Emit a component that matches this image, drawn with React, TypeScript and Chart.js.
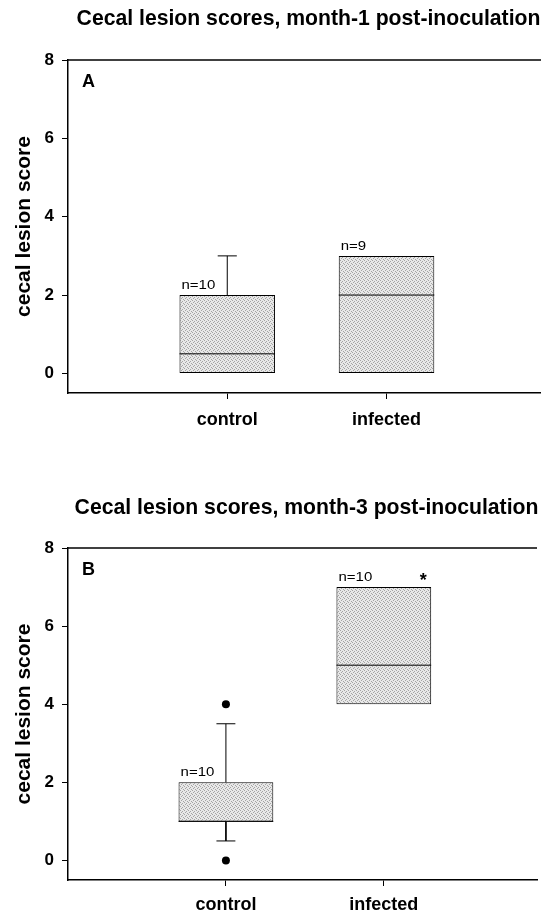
import React, { useEffect, useRef } from 'react';
import { Chart, registerables } from 'chart.js';

Chart.register(...registerables);

const FONT = '"Liberation Sans", Arial, Helvetica, sans-serif';

// ---- shared ----
const categories = ['control', 'infected'];
const categoryX = [1, 2];
const yTicks = [0, 2, 4, 6, 8];
const yAxisTitle = 'cecal lesion score';

// ---- Panel A : month 1 ----
const titleA = 'Cecal lesion scores, month-1 post-inoculation';
const q1A = [0, 0];
const medianA = [0.5, 2];
const q3A = [2, 3];
const whiskerLowA = [0, 0];
const whiskerHighA = [3, 3];
const outliersA: number[][] = [[], []];
const nLabelsA = ['n=10', 'n=9'];
const significantA = [false, false];

// ---- Panel B : month 3 ----
const titleB = 'Cecal lesion scores, month-3 post-inoculation';
const q1B = [1, 4];
const medianB = [1, 5];
const q3B = [2, 7];
const whiskerLowB = [0.5, 4];
const whiskerHighB = [3.5, 7];
const outliersB: number[][] = [[0, 4], []];
const nLabelsB = ['n=10', 'n=10'];
const significantB = [false, true];

const BOX_HALF = 0.3;
const CAP_HALF = 0.06;

type PanelCfg = {
  title: string;
  letter: string;
  q1: number[];
  median: number[];
  q3: number[];
  low: number[];
  high: number[];
  outliers: number[][];
  n: string[];
  sig: boolean[];
  height: number;
  padTop: number;
  xAxisHeight: number;
  titleY: number;
  xLabelPad: number;
};

const panels: PanelCfg[] = [
  {
    title: titleA, letter: 'A', q1: q1A, median: medianA, q3: q3A, low: whiskerLowA, high: whiskerHighA,
    outliers: outliersA, n: nLabelsA, sig: significantA,
    height: 450, padTop: 52, xAxisHeight: 65, titleY: 11, xLabelPad: 10,
  },
  {
    title: titleB, letter: 'B', q1: q1B, median: medianB, q3: q3B, low: whiskerLowB, high: whiskerHighB,
    outliers: outliersB, n: nLabelsB, sig: significantB,
    height: 456, padTop: 90, xAxisHeight: 34, titleY: 50, xLabelPad: 8,
  },
];

function makeStipple(): CanvasPattern | string {
  const c = document.createElement('canvas');
  c.width = 4;
  c.height = 4;
  const g = c.getContext('2d');
  if (!g) return '#d6d6d6';
  g.fillStyle = '#e8e8e8';
  g.fillRect(0, 0, 4, 4);
  g.fillStyle = '#a4a4a4';
  [[0, 0], [2, 1], [1, 2], [3, 3]].forEach(([a, b]) => g.fillRect(a, b, 1, 1));
  return g.createPattern(c, 'repeat') || '#d6d6d6';
}

function buildDatasets(p: PanelCfg, fill: CanvasPattern | string): any[] {
  const medianPts: any[] = [];
  const whiskerPts: any[] = [];
  categoryX.forEach((cx, i) => {
    medianPts.push({ x: cx - BOX_HALF, y: p.median[i] }, { x: cx + BOX_HALF, y: p.median[i] }, { x: cx, y: null });
    if (p.high[i] > p.q3[i]) {
      whiskerPts.push({ x: cx, y: p.q3[i] }, { x: cx, y: p.high[i] }, { x: cx, y: null });
      whiskerPts.push({ x: cx - CAP_HALF, y: p.high[i] }, { x: cx + CAP_HALF, y: p.high[i] }, { x: cx, y: null });
    }
    if (p.low[i] < p.q1[i]) {
      whiskerPts.push({ x: cx, y: p.q1[i] }, { x: cx, y: p.low[i] }, { x: cx, y: null });
      whiskerPts.push({ x: cx - CAP_HALF, y: p.low[i] }, { x: cx + CAP_HALF, y: p.low[i] }, { x: cx, y: null });
    }
  });
  const outlierPts: any[] = [];
  categoryX.forEach((cx, i) => p.outliers[i].forEach((v) => outlierPts.push({ x: cx, y: v })));

  const lineCommon = {
    type: 'line',
    borderColor: '#000',
    borderWidth: 1,
    pointRadius: 0,
    fill: false,
    spanGaps: false,
    tension: 0,
  };

  return [
    {
      type: 'bar',
      label: 'box',
      data: categoryX.map((cx, i) => ({ x: cx, y: [p.q1[i], p.q3[i]] })),
      backgroundColor: fill,
      borderColor: '#000',
      borderWidth: 1,
      borderSkipped: false,
      barPercentage: 0.6,
      categoryPercentage: 1,
      order: 3,
    },
    { ...lineCommon, label: 'median', data: medianPts, order: 1 },
    { ...lineCommon, label: 'whisker', data: whiskerPts, order: 2 },
    {
      type: 'scatter',
      label: 'outliers',
      data: outlierPts,
      pointRadius: 4,
      pointBackgroundColor: '#000',
      pointBorderWidth: 0,
      showLine: false,
      order: 0,
    },
  ];
}

function decorPlugin(p: PanelCfg) {
  return {
    id: 'decor',
    afterDraw(chart: any) {
      const { ctx, chartArea } = chart;
      const x = chart.scales.x;
      const y = chart.scales.y;
      ctx.save();
      // top frame line
      ctx.strokeStyle = '#000';
      ctx.lineWidth = 1.5;
      ctx.beginPath();
      ctx.moveTo(chartArea.left, chartArea.top);
      ctx.lineTo(chartArea.right, chartArea.top);
      ctx.stroke();
      // title
      ctx.fillStyle = '#000';
      ctx.font = `bold 21.2px ${FONT}`;
      ctx.textAlign = 'center';
      ctx.textBaseline = 'middle';
      ctx.fillText(p.title, (chartArea.left + chartArea.right) / 2 + 4, p.titleY);
      // panel letter
      ctx.font = `bold 18px ${FONT}`;
      ctx.textAlign = 'left';
      ctx.textBaseline = 'alphabetic';
      ctx.fillText(p.letter, chartArea.left + 14, chartArea.top + 27);
      // n labels and significance marks
      categoryX.forEach((cx, i) => {
        const left = x.getPixelForValue(cx - BOX_HALF);
        const right = x.getPixelForValue(cx + BOX_HALF);
        const top = y.getPixelForValue(p.q3[i]);
        ctx.save();
        ctx.translate(left + 2, top - 6);
        ctx.scale(1.25, 1);
        ctx.font = `12px ${FONT}`;
        ctx.textAlign = 'left';
        ctx.textBaseline = 'alphabetic';
        ctx.fillText(p.n[i], 0, 0);
        ctx.restore();
        if (p.sig[i]) {
          ctx.font = `bold 18px ${FONT}`;
          ctx.textAlign = 'center';
          ctx.textBaseline = 'alphabetic';
          ctx.fillText('*', right - 8, top - 1);
        }
      });
      ctx.restore();
    },
  };
}

function Panel({ cfg }: { cfg: PanelCfg }) {
  const ref = useRef<HTMLCanvasElement>(null);
  useEffect(() => {
    if (!ref.current) return;
    const fill = makeStipple();
    const chart = new Chart(ref.current, {
      type: 'bar',
      data: { datasets: buildDatasets(cfg, fill) as any },
      options: {
        animation: false,
        responsive: false,
        devicePixelRatio: 1,
        layout: { padding: { top: cfg.padTop, right: 0, bottom: 0, left: 0 } },
        plugins: {
          legend: { display: false },
          tooltip: { enabled: false },
          title: { display: false },
        },
        scales: {
          x: {
            type: 'linear',
            min: 0,
            max: 2.97,
            offset: false,
            afterBuildTicks: (scale: any) => {
              scale.ticks = categoryX.map((v) => ({ value: v }));
            },
            afterFit: (scale: any) => {
              scale.height = cfg.xAxisHeight;
            },
            ticks: {
              autoSkip: false,
              maxRotation: 0,
              color: '#000',
              padding: cfg.xLabelPad,
              font: { family: FONT, size: 18, weight: 'bold' },
              callback: (value: any) => {
                const idx = categoryX.indexOf(Number(value));
                return idx >= 0 ? categories[idx] : '';
              },
            },
            grid: {
              display: true,
              offset: false,
              drawOnChartArea: false,
              drawTicks: true,
              tickLength: 6,
              color: '#000',
              lineWidth: 1,
            },
            border: { display: true, color: '#000', width: 1.5 },
          },
          y: {
            type: 'linear',
            min: -0.5,
            max: 8,
            afterBuildTicks: (scale: any) => {
              scale.ticks = yTicks.map((v) => ({ value: v }));
            },
            afterFit: (scale: any) => {
              scale.width = 60;
            },
            ticks: {
              color: '#000',
              padding: 8,
              font: { family: FONT, size: 17, weight: 'bold' },
            },
            grid: {
              display: true,
              drawOnChartArea: false,
              drawTicks: true,
              tickLength: 6,
              color: '#000',
              lineWidth: 1,
            },
            border: { display: true, color: '#000', width: 1.5 },
            title: {
              display: true,
              text: yAxisTitle,
              color: '#000',
              font: { family: FONT, size: 21, weight: 'bold' },
              padding: { top: 4, bottom: 0 },
            },
          },
        },
      } as any,
      plugins: [decorPlugin(cfg)],
    });
    return () => chart.destroy();
  }, [cfg]);
  return (
    <canvas
      ref={ref}
      width={533}
      height={cfg.height}
      style={{ display: 'block', width: 533, height: cfg.height }}
    />
  );
}

export default function App() {
  useEffect(() => {
    document.documentElement.style.overflow = 'hidden';
    document.body.style.margin = '0';
    document.body.style.background = '#fff';
  }, []);
  return (
    <div
      style={{
        width: 541,
        height: 914,
        boxSizing: 'border-box',
        paddingLeft: 8,
        paddingTop: 8,
        overflow: 'hidden',
        background: '#fff',
      }}
    >
      {panels.map((p) => (
        <Panel key={p.letter} cfg={p} />
      ))}
    </div>
  );
}
